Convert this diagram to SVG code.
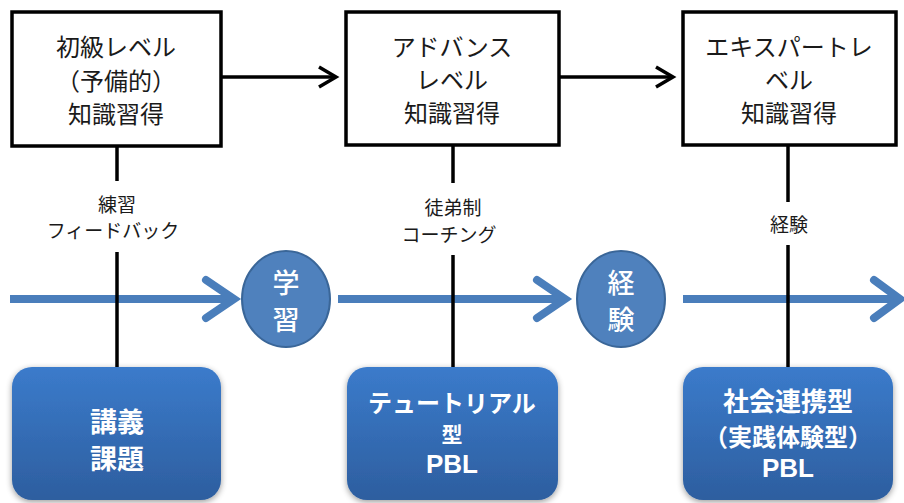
<svg xmlns="http://www.w3.org/2000/svg" width="904" height="503" viewBox="0 0 904 503">
<defs>
<style>
.box{fill:#fff;stroke:#000;stroke-width:3.5}
.blk{stroke:#000;stroke-width:3.5;fill:none}
.blue{stroke:#4A7EBB;stroke-width:8;fill:none;stroke-linecap:butt}
.chev{stroke:#4A7EBB;stroke-width:8;fill:none;stroke-linecap:round;stroke-linejoin:miter}
.circ{fill:#4F81BD;stroke:#3A6698;stroke-width:2}
.t{font-family:"Noto Sans CJK JP","Noto Sans",sans-serif;fill:#1a1a1a;text-anchor:middle}
.tl{font-size:24px}
.lbl{font-size:19px}
.w{font-family:"Noto Sans CJK JP","Noto Sans",sans-serif;fill:#fff;text-anchor:middle;font-weight:bold}
.cw{font-family:"Noto Sans CJK JP","Noto Sans",sans-serif;fill:#fff;text-anchor:middle;font-size:27px;font-weight:500}
.pbl{font-family:"Liberation Sans",Arial,sans-serif;fill:#fff;text-anchor:middle;font-weight:bold;font-size:26px}
.rb{fill:url(#g);filter:url(#sh)}
</style>
<linearGradient id="g" x1="0" y1="0" x2="0" y2="1">
<stop offset="0" stop-color="#3B7BCB"/>
<stop offset="1" stop-color="#2D5E9F"/>
</linearGradient>
<filter id="sh" x="-10%" y="-10%" width="120%" height="125%">
<feGaussianBlur in="SourceAlpha" stdDeviation="3"/>
<feOffset dx="0" dy="2" result="b"/>
<feComponentTransfer><feFuncA type="linear" slope="0.4"/></feComponentTransfer>
<feMerge><feMergeNode/><feMergeNode in="SourceGraphic"/></feMerge>
</filter>
</defs>
<rect width="904" height="503" fill="#fff"/>

<g id="connectors">
<line class="blk" x1="221" y1="77" x2="336" y2="77"/>
<path class="blk" d="M319,67 L336,77 L319,87"/>
<line class="blk" x1="559" y1="77" x2="673" y2="77"/>
<path class="blk" d="M656,67 L673,77 L656,87"/>

<line class="blue" x1="10" y1="299" x2="232" y2="299"/>
<path class="chev" d="M206,280 L234,299 L206,318"/>
<line class="blue" x1="338" y1="299" x2="562" y2="299"/>
<path class="chev" d="M537,280 L565,299 L537,318"/>
<line class="blue" x1="683" y1="299" x2="898" y2="299"/>
<path class="chev" d="M874,280 L900,299 L874,318"/>

<line class="blk" x1="117" y1="146" x2="117" y2="181"/>
<line class="blk" x1="117" y1="252" x2="117" y2="368"/>
<line class="blk" x1="453" y1="145" x2="453" y2="183"/>
<line class="blk" x1="453" y1="255" x2="453" y2="368"/>
<line class="blk" x1="788" y1="145" x2="788" y2="202"/>
<line class="blk" x1="788" y1="245" x2="788" y2="368"/>

<text class="t lbl" x="117" y="212">練習</text>
<text class="t lbl" x="113" y="238">フィードバック</text>
<text class="t lbl" x="453" y="215">徒弟制</text>
<text class="t lbl" x="449" y="242">コーチング</text>
<text class="t lbl" x="789" y="232">経験</text>
</g>

<g id="top1">
<rect class="box" x="12" y="12" width="209" height="134"/>
<text class="t tl" x="116" y="56">初級レベル</text>
<text class="t tl" x="116" y="90">（予備的）</text>
<text class="t tl" x="116" y="123">知識習得</text>
</g>
<g id="top2">
<rect class="box" x="346" y="12" width="213" height="133"/>
<text class="t tl" x="452" y="56">アドバンス</text>
<text class="t tl" x="452" y="89">レベル</text>
<text class="t tl" x="452" y="122">知識習得</text>
</g>
<g id="top3">
<rect class="box" x="683" y="12" width="213" height="133"/>
<text class="t tl" x="789" y="56">エキスパートレ</text>
<text class="t tl" x="789" y="89">ベル</text>
<text class="t tl" x="789" y="122">知識習得</text>
</g>

<g id="circle1">
<ellipse class="circ" cx="286" cy="299" rx="44" ry="48"/>
<text class="cw" x="286" y="293">学</text>
<text class="cw" x="286" y="330">習</text>
</g>
<g id="circle2">
<ellipse class="circ" cx="621" cy="299" rx="44" ry="48"/>
<text class="cw" x="621" y="293">経</text>
<text class="cw" x="621" y="330">験</text>
</g>

<g id="bottom1">
<rect class="rb" x="12" y="367" width="209" height="133" rx="20"/>
<text class="w" x="117" y="432" font-size="27">講義</text>
<text class="w" x="117" y="469" font-size="27">課題</text>
</g>
<g id="bottom2">
<rect class="rb" x="347" y="367" width="211" height="133" rx="20"/>
<text class="w" x="452" y="412" font-size="24">テュートリアル</text>
<text class="w" x="452" y="442" font-size="21">型</text>
<text class="pbl" x="452" y="473">PBL</text>
</g>
<g id="bottom3">
<rect class="rb" x="683" y="367" width="210" height="133" rx="20"/>
<text class="w" x="788" y="411" font-size="26">社会連携型</text>
<text class="w" x="788" y="446" font-size="24">（実践体験型）</text>
<text class="pbl" x="788" y="477">PBL</text>
</g>
</svg>
